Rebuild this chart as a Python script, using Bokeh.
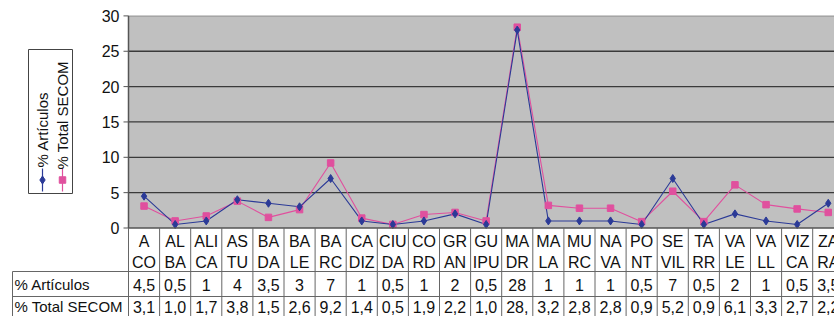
import math
from bokeh.plotting import figure
from bokeh.models import Range1d
from bokeh.core.properties import value
from bokeh.embed import file_html
from bokeh.resources import INLINE

# ---- data ----
categories = ["A CO", "AL BA", "ALI CA", "AS TU", "BA DA", "BA LE", "BA RC", "CA DIZ",
              "CIU DA", "CO RD", "GR AN", "GU IPU", "MA DR", "MA LA", "MU RC", "NA VA",
              "PO NT", "SE VIL", "TA RR", "VA LE", "VA LL", "VIZ CA", "ZA RA"]
articulos = [4.5, 0.5, 1, 4, 3.5, 3, 7, 1, 0.5, 1, 2, 0.5, 28, 1, 1, 1, 0.5, 7, 0.5, 2, 1, 0.5, 3.5]
secom = [3.1, 1.0, 1.7, 3.8, 1.5, 2.6, 9.2, 1.4, 0.5, 1.9, 2.2, 1.0, 28.4, 3.2, 2.8, 2.8,
         0.9, 5.2, 0.9, 6.1, 3.3, 2.7, 2.2]
series_names = ["% Artículos", "% Total SECOM"]
yticks = [0, 5, 10, 15, 20, 25, 30]

# ---- layout helpers (picture pixels -> data) ----
COLW = 31.1
X0 = 128.0
Y0 = 227.5
YS = 7.07


def px2x(px):
    return (px - X0) / COLW - 0.5


def px2y(py):
    return (Y0 - py) / YS


FONT = value("Liberation Sans")
FS = "16px"
BLUE = "#2B3A97"
PINK = "#E0509E"
GRID = "#3a3a3a"
TABLE = "#666666"

n = len(categories)
xs = list(range(n))

p = figure(width=834, height=316, output_backend="svg", toolbar_location=None,
           x_range=Range1d(px2x(0), px2x(834)), y_range=Range1d(px2y(316), px2y(0)),
           x_axis_location=None, y_axis_location=None, min_border=0)
p.grid.visible = False
p.outline_line_color = None
p.background_fill_color = "white"
p.border_fill_color = "white"

xr = px2x(840)
xl = -0.5

# plot area
p.quad(left=[xl], right=[xr], bottom=[yticks[0]], top=[yticks[-1]],
       fill_color="#C0C0C0", line_color=None)
# gridlines
p.segment(x0=[xl] * 5, x1=[xr] * 5, y0=yticks[1:-1], y1=yticks[1:-1],
          line_color=GRID, line_width=1.3)
# top border (dotted)
p.segment(x0=[xl], x1=[xr], y0=[yticks[-1]], y1=[yticks[-1]],
          line_color="#777777", line_width=1.5, line_dash="1 1")
# y axis line and ticks
p.segment(x0=[xl], x1=[xl], y0=[yticks[0]], y1=[yticks[-1]],
          line_color="#555555", line_width=1.5)
p.segment(x0=[px2x(123)] * len(yticks), x1=[xl] * len(yticks), y0=yticks, y1=yticks,
          line_color="#555555", line_width=1)
p.text(x=[px2x(119)] * len(yticks), y=yticks, text=[str(t) for t in yticks],
       text_align="right", text_baseline="middle", text_font=FONT,
       text_font_size=FS, text_color="#111111")

# series
p.line(xs, secom, line_color=PINK, line_width=1.1)
p.line(xs, articulos, line_color=BLUE, line_width=1.1)
p.scatter(xs, secom, marker="square", size=6.5, fill_color=PINK, line_color=PINK)
p.scatter(xs, articulos, marker="diamond", size=8, fill_color=BLUE, line_color=BLUE)

# ---- data table ----
y_top = px2y(Y0)
y_h = px2y(271)
y_r1 = px2y(296)
y_bot = px2y(330)
# bottom axis / table top
p.segment(x0=[xl], x1=[xr], y0=[y_top], y1=[y_top], line_color="#555555", line_width=1.3)
# horizontal lines
p.segment(x0=[px2x(12)] * 2, x1=[xr] * 2, y0=[y_h, y_r1], y1=[y_h, y_r1],
          line_color=TABLE, line_width=1)
# vertical lines
vx = [k - 0.5 for k in range(n + 1)]
p.segment(x0=vx, x1=vx, y0=[y_top] * len(vx), y1=[y_bot] * len(vx),
          line_color=TABLE, line_width=1)
p.segment(x0=[px2x(12)], x1=[px2x(12)], y0=[y_h], y1=[y_bot],
          line_color=TABLE, line_width=1)

line1 = [c.split(" ")[0] for c in categories]
line2 = [c.split(" ")[1] for c in categories]
p.text(x=xs, y=[px2y(241)] * n, text=line1, text_align="center", text_baseline="middle",
       text_font=FONT, text_font_size=FS, text_color="#111111")
p.text(x=xs, y=[px2y(262)] * n, text=line2, text_align="center", text_baseline="middle",
       text_font=FONT, text_font_size=FS, text_color="#111111")


def fmt(v):
    s = ("%g" % v) if float(v).is_integer() else ("%.1f" % v)
    s = s.replace(".", ",")
    return s[:3]


def fmt1(v):
    return ("%.1f" % v).replace(".", ",")[:3]


p.text(x=xs, y=[px2y(284)] * n, text=[fmt(v) for v in articulos], text_align="center",
       text_baseline="middle", text_font=FONT, text_font_size=FS, text_color="#111111")
p.text(x=xs, y=[px2y(306)] * n, text=[fmt1(v) for v in secom], text_align="center",
       text_baseline="middle", text_font=FONT, text_font_size=FS, text_color="#111111")
p.text(x=[px2x(14)] * 2, y=[px2y(284), px2y(306)], text=series_names, text_align="left",
       text_baseline="middle", text_font=FONT, text_font_size="15px", text_color="#111111")

# ---- legend (rotated) ----
p.quad(left=[px2x(28)], right=[px2x(72)], bottom=[px2y(193)], top=[px2y(49)],
       fill_color="white", line_color="#444444", line_width=1)
lx = [px2x(42), px2x(62)]
p.segment(x0=lx, x1=lx, y0=[px2y(168)] * 2, y1=[px2y(191)] * 2,
          line_color=[BLUE, PINK], line_width=1.2)
p.scatter([lx[0]], [px2y(179.5)], marker="diamond", size=8, fill_color=BLUE, line_color=BLUE)
p.scatter([lx[1]], [px2y(179.5)], marker="square", size=6.5, fill_color=PINK, line_color=PINK)
p.text(x=lx, y=[px2y(167), px2y(169)], text=series_names, angle=math.pi / 2,
       text_align="left", text_baseline="middle", text_font=FONT, text_font_size="15px",
       text_color="#111111")

open("out.html", "w").write(file_html(p, INLINE))
